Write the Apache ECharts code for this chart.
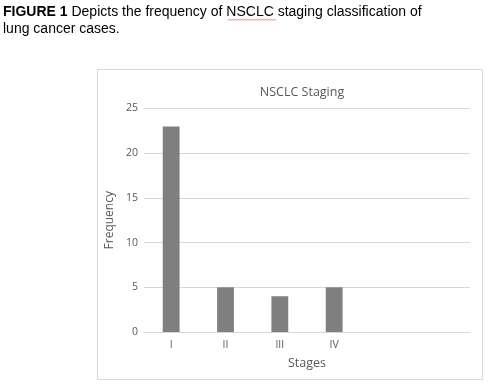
<!DOCTYPE html>
<html><head><meta charset="utf-8">
<script src="https://cdn.jsdelivr.net/npm/echarts@6/dist/echarts.min.js"></script>
<style>html,body{margin:0;padding:0;background:#fff}#c{width:500px;height:386px}</style>
</head><body><div id="c"></div>
<script>
const categories = ['I', 'II', 'III', 'IV', '', ''];
const frequency = [23, 5, 4, 5, null, null];
const yTicks = [0, 5, 10, 15, 20, 25];

const chart = echarts.init(document.getElementById('c'), null, {renderer: 'canvas'});
const font = 'Open Sans';
// spell-check style wavy underline under "NSCLC"
const wave = [];
for (let x = 228, i = 0; x <= 276; x += 1.5, i++) wave.push([x, i % 2 ? 19 : 20.5]);
chart.setOption({
  animation: false,
  backgroundColor: '#fff',
  title: {
    text: 'NSCLC Staging', left: 297, top: 81, textAlign: 'center',
    textStyle: {fontFamily: font, fontSize: 12.5, fontWeight: 'normal', color: '#595959'}
  },
  graphic: [
    {type: 'rect', shape: {x: 97.5, y: 69.5, width: 385, height: 310}, style: {fill: 'none', stroke: '#d9d9d9', lineWidth: 1}, z: -1},
    {type: 'text', left: 3, top: 4, style: {
      text: '{b|FIGURE 1} Depicts the frequency of NSCLC staging classification of\nlung cancer cases.',
      rich: {b: {fontWeight: 'bold', fontFamily: 'Liberation Sans', fontSize: 14, fill: '#000'}},
      fontFamily: 'Liberation Sans', fontSize: 14, fill: '#000', lineHeight: 16.5
    }},
    {type: 'polyline', shape: {points: wave}, style: {stroke: '#e06060', lineWidth: 0.8, fill: 'none'}}
  ],
  grid: {left: 144, right: 30, top: 108.5, bottom: 54, containLabel: false},
  xAxis: {
    type: 'category', data: categories,
    name: 'Stages', nameLocation: 'middle', nameGap: 25,
    nameTextStyle: {fontFamily: font, fontSize: 12.5, color: '#595959'},
    axisLine: {lineStyle: {color: '#d9d9d9'}},
    axisTick: {show: false},
    axisLabel: {fontFamily: font, fontSize: 10.5, color: '#595959', margin: 8}
  },
  yAxis: {
    type: 'value', min: yTicks[0], max: yTicks[yTicks.length - 1], interval: 5,
    name: 'Frequency', nameLocation: 'middle', nameGap: 27, nameRotate: 90,
    nameTextStyle: {fontFamily: font, fontSize: 12, color: '#595959'},
    axisLine: {show: false}, axisTick: {show: false},
    axisLabel: {fontFamily: font, fontSize: 10.5, color: '#595959', margin: 6},
    splitLine: {lineStyle: {color: '#d9d9d9'}}
  },
  series: [{
    type: 'bar', data: frequency, barWidth: '31%',
    itemStyle: {color: '#7f7f7f'}
  }]
});
</script></body></html>
